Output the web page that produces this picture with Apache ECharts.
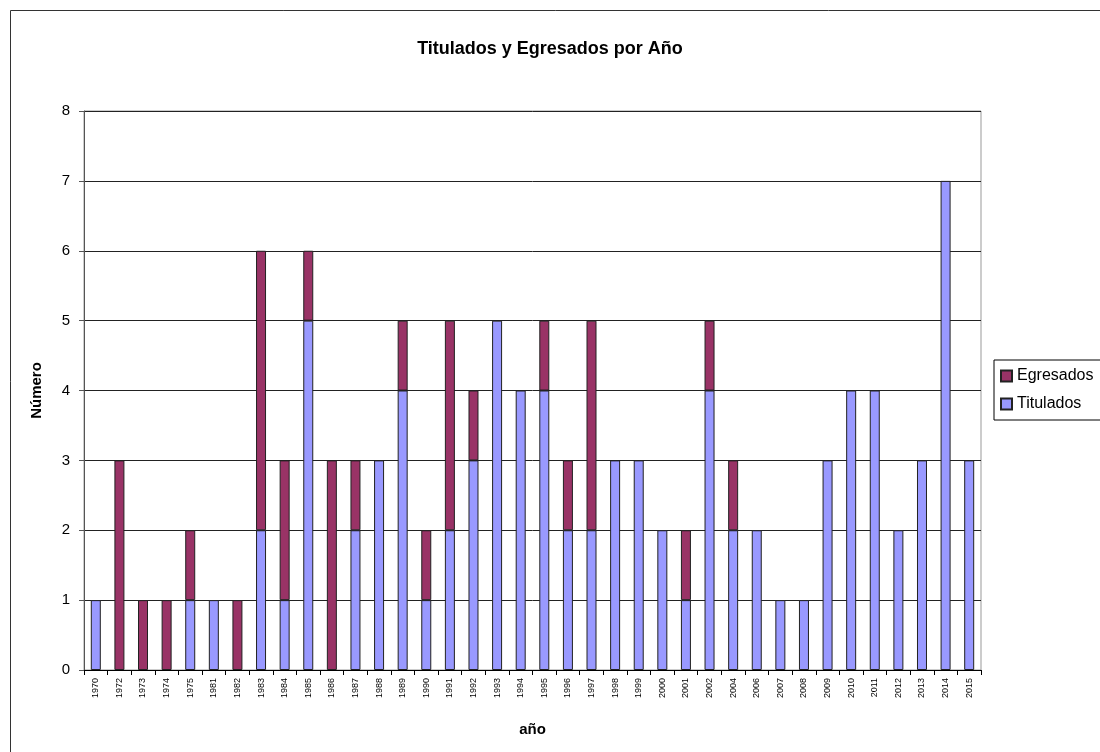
<!DOCTYPE html>
<html>
<head>
<meta charset="utf-8">
<script src="https://cdn.jsdelivr.net/npm/echarts@6/dist/echarts.min.js"></script>
<style>
  html, body { margin: 0; padding: 0; background: #fff; }
  #chart { width: 1100px; height: 752px; }
</style>
</head>
<body>
<div id="chart"></div>
<script>
// años (eje x)
var years = ['1970', '1972', '1973', '1974', '1975', '1981', '1982', '1983', '1984', '1985',
    '1986', '1987', '1988', '1989', '1990', '1991', '1992', '1993', '1994', '1995',
    '1996', '1997', '1998', '1999', '2000', '2001', '2002', '2004', '2006', '2007',
    '2008', '2009', '2010', '2011', '2012', '2013', '2014', '2015'];
// titulados por año
var titulados = [1, 0, 0, 0, 1, 1, 0, 2, 1, 5,
    0, 2, 3, 4, 1, 2, 3, 5, 4, 4,
    2, 2, 3, 3, 2, 1, 4, 2, 2, 1,
    1, 3, 4, 4, 2, 3, 7, 3];
// egresados por año
var egresados = [0, 3, 1, 1, 1, 0, 1, 4, 2, 1,
    3, 1, 0, 1, 1, 3, 1, 0, 0, 1,
    1, 3, 0, 0, 0, 1, 1, 1, 0, 0,
    0, 0, 0, 0, 0, 0, 0, 0];
var yTicks = [0, 1, 2, 3, 4, 5, 6, 7, 8];

// los ceros no se dibujan (Excel no pinta barras vacías)
function noZero(arr) {
    return arr.map(function (v) { return v === 0 ? '-' : v; });
}

var chart = echarts.init(document.getElementById('chart'));
var font = 'Arial, "Liberation Sans", sans-serif';

var option = {
    backgroundColor: '#fff',
    animation: false,
    title: {
        text: 'Titulados y Egresados por Año',
        left: 'center',
        top: 35,
        textStyle: { fontFamily: font, fontSize: 18, fontWeight: 'bold', color: '#000' }
    },
    legend: {
        orient: 'vertical',
        left: 994,
        top: 360,
        padding: [8, 10, 8, 6],
        itemGap: 12,
        itemWidth: 11,
        itemHeight: 11,
        icon: 'rect',
        borderColor: '#000',
        borderWidth: 1,
        data: ['Egresados', 'Titulados'],
        textStyle: { fontFamily: font, fontSize: 16, color: '#000' }
    },
    grid: { left: 84, right: 119, top: 111, bottom: 82, show: true, borderColor: '#999', borderWidth: 1 },
    xAxis: {
        type: 'category',
        data: years,
        name: 'año',
        nameLocation: 'middle',
        nameGap: 52,
        nameTextStyle: { fontFamily: font, fontSize: 15, fontWeight: 'bold', color: '#000' },
        axisLine: { lineStyle: { color: '#000' } },
        axisTick: { show: true, length: 5, lineStyle: { color: '#000' } },
        axisLabel: { rotate: 90, fontFamily: font, fontSize: 9, color: '#000', margin: 8, interval: 0 }
    },
    yAxis: {
        type: 'value',
        min: yTicks[0],
        max: yTicks[yTicks.length - 1],
        interval: 1,
        name: 'Número',
        nameLocation: 'middle',
        nameGap: 40,
        nameRotate: 90,
        nameTextStyle: { fontFamily: font, fontSize: 15, fontWeight: 'bold', color: '#000' },
        axisLine: { show: true, lineStyle: { color: '#555' } },
        axisTick: { show: true, length: 5, lineStyle: { color: '#555' } },
        axisLabel: { fontFamily: font, fontSize: 15, color: '#000', margin: 14 },
        splitLine: { lineStyle: { color: '#222', width: 1 } }
    },
    series: [
        {
            name: 'Titulados',
            type: 'bar',
            stack: 'total',
            barWidth: 10,
            data: noZero(titulados),
            itemStyle: { color: '#9999FF', borderColor: '#222', borderWidth: 1 }
        },
        {
            name: 'Egresados',
            type: 'bar',
            stack: 'total',
            barWidth: 10,
            data: noZero(egresados),
            itemStyle: { color: '#993366', borderColor: '#222', borderWidth: 1 }
        }
    ],
    graphic: [
        {
            type: 'rect',
            silent: true,
            z: -1,
            shape: { x: 10.5, y: 10.5, width: 1200, height: 1000 },
            style: { fill: 'none', stroke: '#333', lineWidth: 1 }
        }
    ]
};

chart.setOption(option);
</script>
</body>
</html>
